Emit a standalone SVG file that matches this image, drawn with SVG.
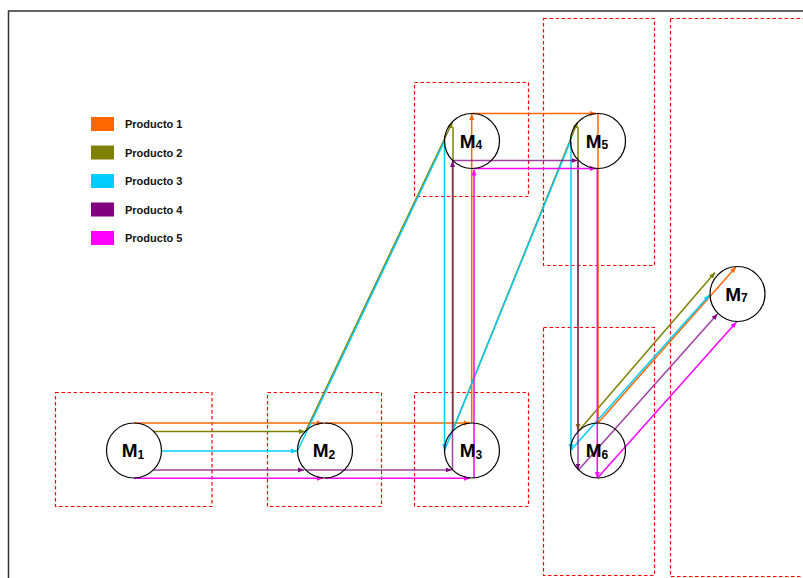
<svg xmlns="http://www.w3.org/2000/svg" width="803" height="578" viewBox="0 0 803 578">
<style>
.zone{fill:none;stroke:#ff0000;stroke-width:1.2;stroke-dasharray:3.5 2.5}
.node{fill:none;stroke:#000;stroke-width:1.2}
.lbl{font-family:"Liberation Sans",Arial,sans-serif;font-weight:bold;font-size:19px;fill:#000;text-anchor:middle}
.sub{font-size:12px}
.leg{font-family:"Liberation Sans",Arial,sans-serif;font-weight:bold;font-size:11px;fill:#111}
.c line{stroke-width:1.5;fill:none}
.p1{stroke:#ff6600}
.p2{stroke:#808000}
.p3{stroke:#00ccff}
.p4{stroke:#800080;stroke-opacity:0.75}
.p5{stroke:#ff00ff}
</style>
<defs>
<marker id="a1" markerUnits="userSpaceOnUse" markerWidth="7" markerHeight="6" refX="6" refY="3" orient="auto"><path d="M0,0.5 L6,3 L0,5.5 z" fill="#ff6600"/></marker>
<marker id="a2" markerUnits="userSpaceOnUse" markerWidth="7" markerHeight="6" refX="6" refY="3" orient="auto"><path d="M0,0.5 L6,3 L0,5.5 z" fill="#808000"/></marker>
<marker id="a3" markerUnits="userSpaceOnUse" markerWidth="7" markerHeight="6" refX="6" refY="3" orient="auto"><path d="M0,0.5 L6,3 L0,5.5 z" fill="#00ccff"/></marker>
<marker id="a4" markerUnits="userSpaceOnUse" markerWidth="7" markerHeight="6" refX="6" refY="3" orient="auto"><path d="M0,0.5 L6,3 L0,5.5 z" fill="#800080"/></marker>
<marker id="a5" markerUnits="userSpaceOnUse" markerWidth="7" markerHeight="6" refX="6" refY="3" orient="auto"><path d="M0,0.5 L6,3 L0,5.5 z" fill="#ff00ff"/></marker>
</defs>
<rect width="803" height="578" fill="#fff"/>
<g id="frame" fill="none" stroke="#333" stroke-width="1.5">
<path d="M8.5,578 V11 H803"/>
</g>
<g id="zones">
<rect class="zone" x="55.5" y="392.5" width="156.5" height="114"/>
<rect class="zone" x="267.5" y="392.5" width="114" height="114"/>
<rect class="zone" x="414.5" y="392.5" width="114" height="114"/>
<rect class="zone" x="414.5" y="82.5" width="114" height="114"/>
<rect class="zone" x="543.5" y="18.5" width="111" height="247"/>
<rect class="zone" x="543.5" y="327.5" width="111" height="248"/>
<rect class="zone" x="670.5" y="18.5" width="140" height="558"/>
</g>
<g id="legend">
<rect x="91" y="117" width="23" height="14" fill="#ff6600"/>
<text class="leg" x="125" y="128.3">Producto 1</text>
<rect x="91" y="145.5" width="23" height="14" fill="#808000"/>
<text class="leg" x="125" y="156.8">Producto 2</text>
<rect x="91" y="174" width="23" height="14" fill="#00ccff"/>
<text class="leg" x="125" y="185.3">Producto 3</text>
<rect x="91" y="202.5" width="23" height="14" fill="#800080"/>
<text class="leg" x="125" y="213.8">Producto 4</text>
<rect x="91" y="231" width="23" height="14" fill="#ff00ff"/>
<text class="leg" x="125" y="242.3">Producto 5</text>
</g>
<g id="connectors" class="c">
<!-- Producto 1 -->
<line class="p1" x1="134" y1="423" x2="323" y2="423" marker-end="url(#a1)"/>
<line class="p1" x1="325" y1="423" x2="470" y2="423" marker-end="url(#a1)"/>
<line class="p1" x1="471.7" y1="423" x2="471.7" y2="114" marker-end="url(#a1)"/>
<line class="p1" x1="471.7" y1="113.5" x2="596" y2="113.5" marker-end="url(#a1)"/>
<line class="p1" x1="598" y1="113.5" x2="598" y2="423"/>
<line class="p1" x1="598" y1="423" x2="736" y2="267" marker-end="url(#a1)"/>
<!-- Producto 2 -->
<line class="p2" x1="153.4" y1="431.5" x2="305" y2="431.5" marker-end="url(#a2)"/>
<line class="p2" x1="305.5" y1="431.5" x2="452.5" y2="122" marker-end="url(#a2)"/>
<line class="p2" x1="453" y1="127" x2="453" y2="431"/>
<line class="p2" x1="452.5" y1="431" x2="577.5" y2="122" marker-end="url(#a2)"/>
<line class="p2" x1="578" y1="127" x2="578" y2="430" marker-end="url(#a2)"/>
<line class="p2" x1="578.5" y1="431" x2="715" y2="272.5" marker-end="url(#a2)"/>
<!-- Producto 3 -->
<line class="p3" x1="161.5" y1="451" x2="297" y2="451" marker-end="url(#a3)"/>
<line class="p3" x1="297.5" y1="451" x2="444.5" y2="141"/>
<line class="p3" x1="444.5" y1="141" x2="444.5" y2="450" marker-end="url(#a3)"/>
<line class="p3" x1="444.5" y1="450.5" x2="570.5" y2="141"/>
<line class="p3" x1="571" y1="141" x2="571" y2="450" marker-end="url(#a3)"/>
<line class="p3" x1="570.5" y1="450.5" x2="709.5" y2="295" marker-end="url(#a3)"/>
<!-- Producto 4 -->
<line class="p4" x1="153.4" y1="470" x2="304" y2="470" marker-end="url(#a4)"/>
<line class="p4" x1="305.5" y1="470" x2="451.5" y2="470" marker-end="url(#a4)"/>
<line class="p4" x1="452.5" y1="470" x2="452.5" y2="161" marker-end="url(#a4)"/>
<line class="p4" x1="452.5" y1="160.5" x2="577.5" y2="160.5" marker-end="url(#a4)"/>
<line class="p4" x1="578" y1="160.5" x2="578" y2="469.5" marker-end="url(#a4)"/>
<line class="p4" x1="578.5" y1="470" x2="717.5" y2="314" marker-end="url(#a4)"/>
<!-- Producto 5 -->
<line class="p5" x1="134" y1="478.3" x2="323" y2="478.3" marker-end="url(#a5)"/>
<line class="p5" x1="325" y1="478.3" x2="470" y2="478.3" marker-end="url(#a5)"/>
<line class="p5" x1="474" y1="478.3" x2="474" y2="169.5" marker-end="url(#a5)"/>
<line class="p5" x1="474" y1="168.5" x2="596" y2="168.5" marker-end="url(#a5)"/>
<line class="p5" x1="597.3" y1="168.5" x2="597.3" y2="478" marker-end="url(#a5)"/>
<line class="p5" x1="597.5" y1="478" x2="736.5" y2="322" marker-end="url(#a5)"/>
</g>
<g id="M1"><circle class="node" cx="134" cy="450.5" r="27.5"/><text class="lbl" x="133" y="457">M<tspan class="sub" dy="1.5">1</tspan></text></g>
<g id="M2"><circle class="node" cx="325" cy="450.5" r="27.5"/><text class="lbl" x="324" y="457">M<tspan class="sub" dy="1.5">2</tspan></text></g>
<g id="M3"><circle class="node" cx="472" cy="450.5" r="27.5"/><text class="lbl" x="471" y="457">M<tspan class="sub" dy="1.5">3</tspan></text></g>
<g id="M4"><circle class="node" cx="472" cy="141" r="27.5"/><text class="lbl" x="471" y="147.5">M<tspan class="sub" dy="1.5">4</tspan></text></g>
<g id="M5"><circle class="node" cx="598" cy="141" r="27.5"/><text class="lbl" x="597" y="147.5">M<tspan class="sub" dy="1.5">5</tspan></text></g>
<g id="M6"><circle class="node" cx="598" cy="450.5" r="27.5"/><text class="lbl" x="597" y="457">M<tspan class="sub" dy="1.5">6</tspan></text></g>
<g id="M7"><circle class="node" cx="737.5" cy="294" r="27.5"/><text class="lbl" x="736.5" y="300.5">M<tspan class="sub" dy="1.5">7</tspan></text></g>
</svg>
